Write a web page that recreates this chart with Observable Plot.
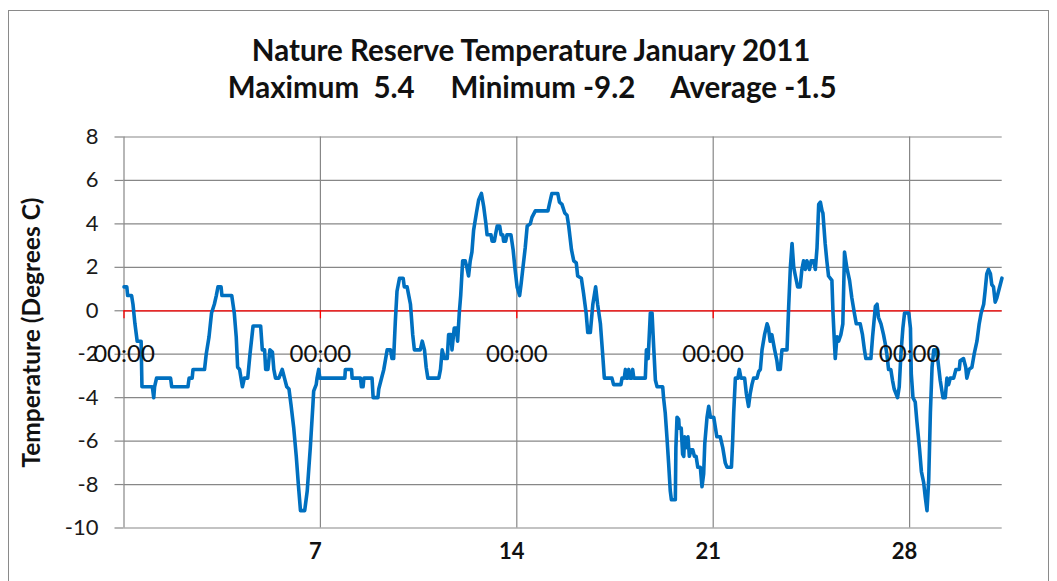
<!DOCTYPE html>
<html><head><meta charset="utf-8">
<script src="https://cdn.jsdelivr.net/npm/d3@7"></script>
<script src="https://cdn.jsdelivr.net/npm/@observablehq/plot@0.6"></script>
<style>
html,body{margin:0;padding:0;background:#fff;width:1057px;height:581px;overflow:hidden}
#wrap{position:relative;width:1057px;height:581px}
#frame{position:absolute;left:8px;top:10px;width:1041px;height:620px;border:1.5px solid #8a8a8a;box-sizing:border-box}
#chart{position:absolute;left:0;top:0}
svg text{white-space:pre}
</style></head><body><div id="wrap"><div id="frame"></div><div id="chart"></div></div>
<script>
const titleLine1 = "Nature Reserve Temperature January 2011";
const titleLine2 = "Maximum  5.4     Minimum -9.2     Average -1.5";
const yLabel = "Temperature (Degrees C)";
const yTicks = [-10, -8, -6, -4, -2, 0, 2, 4, 6, 8];
const gridDays = [0, 7, 14, 21, 28];
const timeLabels = ["00:00", "00:00", "00:00", "00:00", "00:00"];
const weekDays = [7, 14, 21, 28];
const weekLabels = ["7", "14", "21", "28"];

const days = [
0.00,0.10,0.13,0.27,0.32,0.39,0.47,0.61,0.64,1.01,1.06,1.09,1.16,1.66,1.70,2.28,2.32,2.43,2.46,2.87,
2.93,3.03,3.12,3.22,3.29,3.35,3.46,3.49,3.84,3.93,4.00,4.05,4.12,4.22,4.29,4.41,4.49,4.60,4.87,4.93,
5.01,5.05,5.13,5.20,5.29,5.34,5.40,5.52,5.64,5.72,5.80,5.88,5.95,6.05,6.14,6.22,6.29,6.44,6.53,6.64,
6.73,6.76,6.85,6.88,6.94,6.98,7.87,7.89,8.11,8.13,8.43,8.46,8.52,8.55,8.84,8.88,9.05,9.08,9.16,9.26,
9.38,9.50,9.55,9.61,9.67,9.73,9.82,9.95,9.99,10.09,10.15,10.21,10.29,10.35,10.56,10.63,10.71,10.77,10.83,11.22,
11.28,11.34,11.42,11.52,11.57,11.66,11.69,11.77,11.85,11.89,11.95,12.00,12.07,12.16,12.22,12.28,12.34,12.40,12.46,12.56,
12.64,12.74,12.82,12.90,12.94,13.08,13.12,13.20,13.24,13.30,13.39,13.44,13.50,13.53,13.60,13.65,13.79,13.87,13.93,14.01,
14.10,14.15,14.22,14.30,14.37,14.48,14.54,14.66,15.11,15.16,15.25,15.46,15.52,15.61,15.71,15.79,15.85,15.95,16.03,16.12,
16.17,16.30,16.38,16.47,16.53,16.62,16.71,16.81,16.88,16.98,17.06,17.12,17.39,17.45,17.71,17.75,17.83,17.87,17.90,17.95,
17.99,18.03,18.10,18.13,18.17,18.58,18.62,18.68,18.76,18.82,18.88,18.94,19.00,19.20,19.23,19.29,19.35,19.41,19.47,19.51,
19.65,19.67,19.71,19.77,19.79,19.86,19.91,19.95,19.98,20.03,20.10,20.15,20.21,20.27,20.33,20.39,20.45,20.54,20.60,20.66,
20.70,20.78,20.84,20.90,21.02,21.08,21.13,21.25,21.34,21.43,21.49,21.65,21.69,21.73,21.79,21.88,21.93,21.99,22.12,22.18,
22.26,22.32,22.38,22.44,22.56,22.62,22.68,22.74,22.83,22.92,22.97,23.03,23.09,23.19,23.27,23.31,23.39,23.45,23.63,23.69,
23.75,23.81,23.87,23.93,24.01,24.10,24.16,24.22,24.28,24.34,24.43,24.49,24.58,24.64,24.70,24.76,24.82,24.88,24.91,24.99,
25.05,25.11,25.23,25.27,25.31,25.35,25.41,25.47,25.55,25.62,25.68,25.76,25.86,25.94,26.03,26.10,26.24,26.32,26.39,26.44,
26.62,26.68,26.78,26.84,26.89,26.98,27.07,27.13,27.19,27.25,27.33,27.39,27.45,27.57,27.63,27.69,27.76,27.82,27.97,28.03,
28.06,28.12,28.20,28.26,28.35,28.42,28.50,28.56,28.62,28.68,28.74,28.80,28.86,28.94,29.01,29.09,29.19,29.27,29.33,29.39,
29.45,29.53,29.57,29.65,29.77,29.80,29.92,30.00,30.04,30.12,30.22,30.30,30.40,30.48,30.55,30.64,30.69,30.75,30.81,30.88,
30.93,30.99,31.05,31.11,31.17,31.29
];
const temps = [
1.1,1.1,0.7,0.7,0.3,-0.6,-1.4,-1.4,-3.5,-3.5,-4.0,-3.5,-3.1,-3.1,-3.5,-3.5,-3.1,-3.1,-2.7,-2.7,
-2.0,-1.2,-0.1,0.3,0.7,1.1,1.1,0.7,0.7,-0.1,-1.2,-2.6,-2.7,-3.5,-3.1,-3.1,-2.0,-0.7,-0.7,-1.8,
-1.8,-2.7,-2.7,-1.8,-1.9,-2.7,-3.1,-3.1,-2.7,-3.1,-3.5,-3.6,-4.3,-5.4,-6.7,-8.1,-9.2,-9.2,-8.3,-6.3,
-4.4,-3.7,-3.4,-3.1,-2.7,-3.1,-3.1,-2.7,-2.7,-3.1,-3.1,-3.5,-3.5,-3.1,-3.1,-4.0,-4.0,-3.6,-3.2,-2.7,
-1.8,-1.8,-2.2,-2.2,-0.5,0.9,1.5,1.5,1.1,1.1,0.7,0.3,-1.1,-1.8,-1.8,-1.4,-1.8,-2.6,-3.1,-3.1,
-2.7,-1.8,-2.2,-2.2,-1.1,-1.1,-1.8,-0.8,-0.8,-1.4,-0.1,0.7,2.3,2.3,2.0,1.6,2.3,2.7,3.7,4.5,
5.1,5.4,4.8,4.0,3.5,3.5,3.2,3.2,3.5,3.9,3.9,3.5,3.5,3.2,3.2,3.5,3.5,2.8,2.0,1.1,
0.7,1.2,2.0,2.9,3.9,4.0,4.3,4.6,4.6,4.9,5.4,5.4,5.0,4.9,4.5,4.4,3.9,2.8,2.3,2.2,
1.6,1.5,0.8,-0.1,-1.0,-1.0,0.3,1.1,0.3,-0.6,-2.0,-3.1,-3.1,-3.4,-3.4,-3.1,-3.1,-2.7,-3.1,-3.1,
-2.7,-3.1,-3.1,-2.7,-3.1,-3.1,-1.8,-2.2,-0.1,-0.1,-1.7,-3.2,-3.5,-3.5,-4.0,-4.7,-5.8,-7.0,-8.3,-8.7,
-8.7,-6.3,-4.9,-5.0,-5.4,-5.4,-6.6,-6.7,-5.8,-6.3,-5.8,-6.7,-6.4,-6.4,-6.7,-6.7,-7.2,-7.2,-8.1,-7.5,
-6.1,-4.9,-4.4,-4.9,-4.9,-5.4,-5.8,-5.8,-6.3,-7.0,-7.2,-7.2,-6.1,-4.7,-3.1,-3.1,-2.7,-3.1,-3.1,-3.8,
-4.4,-3.8,-3.4,-3.1,-3.1,-2.8,-2.7,-1.8,-1.1,-0.6,-0.8,-1.4,-1.1,-1.8,-2.3,-2.7,-2.7,-1.8,-1.8,0.2,
2.0,3.1,2.0,1.6,1.1,1.1,1.9,2.3,1.9,2.3,1.9,2.3,2.3,1.9,2.9,4.9,5.0,4.6,4.5,3.1,
2.3,1.6,1.4,-0.1,-1.2,-2.2,-1.2,-1.4,-1.1,-0.6,2.7,2.0,1.4,0.6,-0.1,-0.6,-0.6,-1.1,-1.8,-2.2,
-2.2,-1.2,0.2,0.3,-0.3,-0.6,-1.1,-1.5,-2.0,-2.7,-2.7,-3.2,-3.6,-4.0,-3.5,-2.0,-0.8,-0.1,-0.1,-0.8,
-2.9,-4.0,-4.2,-5.1,-6.3,-7.4,-7.9,-8.6,-9.2,-7.8,-4.7,-2.6,-1.8,-1.8,-2.3,-3.2,-4.0,-4.0,-3.1,-3.4,
-3.1,-3.1,-3.1,-2.7,-2.7,-2.3,-2.2,-2.6,-3.1,-2.7,-2.6,-2.0,-1.4,-0.6,-0.1,0.3,0.9,1.7,1.9,1.7,
1.2,1.1,0.4,0.6,0.9,1.5
];

const gray = "#878787";
const font = "Lato, 'Open Sans', sans-serif";

const chart = Plot.plot({
  width: 1057,
  height: 581,
  marginLeft: 123.5,
  marginRight: 55.3,
  marginTop: 136.5,
  marginBottom: 53.5,
  x: {domain: [0, 31.3], axis: null},
  y: {domain: [-10, 8], axis: null},
  style: {fontFamily: font, fontSize: "22px", background: "transparent", overflow: "visible", color: "#111"},
  marks: [
    Plot.gridY(yTicks, {stroke: gray, strokeOpacity: 1, strokeWidth: 1.2}),
    Plot.gridX(gridDays, {stroke: gray, strokeOpacity: 1, strokeWidth: 1.2}),
    Plot.axisY(yTicks, {tickSize: 9, tickPadding: 16.5, stroke: gray, strokeWidth: 1.2, fill: "#1a1a1a", fontSize: 22, label: null, tickFormat: d => String(d)}),
    Plot.ruleY([0], {stroke: "#ff0000", strokeWidth: 1.3}),
    Plot.ruleX(gridDays, {y1: 0, y2: -0.37, stroke: "#ff0000", strokeWidth: 1.3}),
    Plot.line(temps, {x: days, y: temps, stroke: "#0070c0", strokeWidth: 3.6, strokeLinejoin: "round", strokeLinecap: "round"}),
    Plot.text(gridDays, {x: d => d, y: 0, dy: 44, text: (d, i) => timeLabels[i], fontSize: 24, fill: "#111"}),
    Plot.text(weekDays, {x: d => d, frameAnchor: "bottom", lineAnchor: "top", dy: 15, dx: -5, text: (d, i) => weekLabels[i], fontWeight: "bold", fontSize: 22, fill: "#111"}),
    Plot.text([yLabel], {text: d => d, frameAnchor: "left", textAnchor: "middle", rotate: -90, dx: -92, fontWeight: "bold", fontSize: 24.5, fill: "#111"}),
    Plot.text([titleLine1], {text: d => d, frameAnchor: "top", lineAnchor: "top", dy: -97.4, dx: -32, fontWeight: "bold", fontSize: 29.5, fill: "#111"}),
    Plot.text([titleLine2], {text: d => d, frameAnchor: "top", lineAnchor: "top", dy: -60.1, dx: -31, fontWeight: "bold", fontSize: 29.5, fill: "#111"})
  ]
});
document.getElementById("chart").appendChild(chart);
</script></body></html>
